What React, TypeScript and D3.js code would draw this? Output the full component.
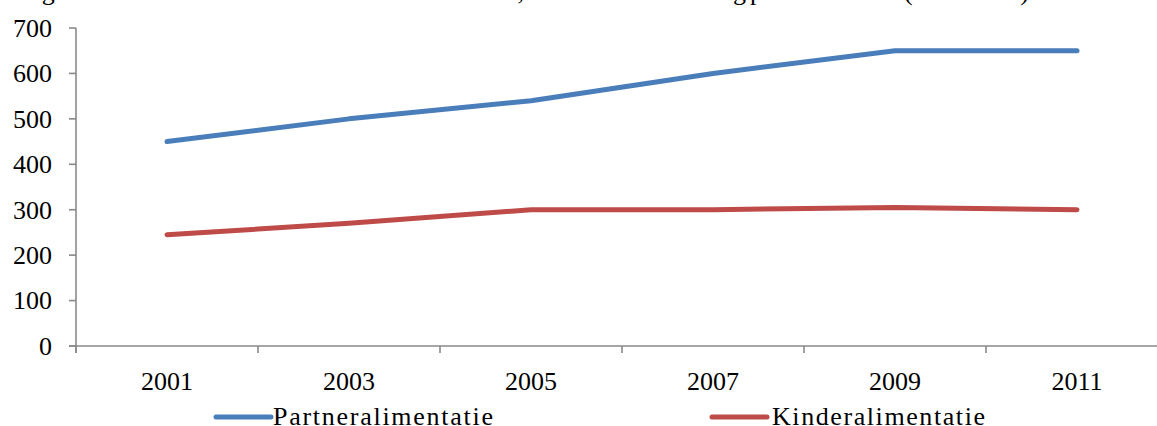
import React from "react";
import * as d3 from "d3";

const years = ["2001", "2003", "2005", "2007", "2009", "2011"];
const partnerValues = [450, 500, 540, 600, 650, 650];
const kinderValues = [245, 270, 300, 300, 305, 300];
const yTickValues = [0, 100, 200, 300, 400, 500, 600, 700];
const seriesNames = ["Partneralimentatie", "Kinderalimentatie"];
const titleParts = ["Figuur 4.3 Mediane alimentatie naar soort,", "het mediane bedrag", "per maand", "(in euro's)"];

const W = 1157;
const H = 426;
const FONT = "'Liberation Serif', 'Times New Roman', serif";
const AXIS = "#898989";
const COLORS = ["#4a7ebb", "#be4b48"];

export default function App() {
  const x = d3.scaleBand<string>().domain(years).range([76, 1168]).padding(0);
  const y = d3.scaleLinear().domain([0, 700]).range([346, 28]);
  const cx = (d: string) => (x(d) as number) + x.bandwidth() / 2;
  const line = d3
    .line<number>()
    .x((_, i) => cx(years[i]))
    .y((v) => y(v));
  const series = [partnerValues, kinderValues];
  const boundaries = years.map((d) => x(d) as number).concat([x.range()[1]]);

  // title segments: [start, end]
  const titleSpans: [number, number][] = [
    [17, 524],
    [530, 746],
    [750, 888],
    [904, 1029],
  ];

  const legend = [
    { x1: 216, x2: 271, tx: 273, tl: 220 },
    { x1: 712, x2: 767, tx: 772, tl: 213 },
  ];

  return (
    <svg
      width={W}
      height={H}
      style={{ position: "absolute", left: 0, top: 0, display: "block", background: "#fff" }}
      fontFamily={FONT}
    >
      {/* cut-off title */}
      {titleParts.map((t, i) => (
        <text
          key={t}
          x={titleSpans[i][0]}
          y={0}
          fontSize={26}
          fill="#000"
          textLength={titleSpans[i][1] - titleSpans[i][0]}
          lengthAdjust="spacing"
        >
          {t}
        </text>
      ))}

      {/* y axis */}
      <line x1={76} x2={76} y1={y(700)} y2={353} stroke={AXIS} strokeWidth={1.6} />
      {yTickValues.map((t) => (
        <g key={t}>
          <line x1={69} x2={76} y1={y(t)} y2={y(t)} stroke={AXIS} strokeWidth={1.6} />
          <text x={52} y={y(t)} dy="0.34em" textAnchor="end" fontSize={26} fill="#000">
            {t}
          </text>
        </g>
      ))}

      {/* x axis */}
      <line x1={69} x2={x.range()[1]} y1={y(0)} y2={y(0)} stroke={AXIS} strokeWidth={1.6} />
      {boundaries.map((b, i) => (
        <line key={i} x1={b} x2={b} y1={y(0)} y2={353} stroke={AXIS} strokeWidth={1.6} />
      ))}
      {years.map((d) => (
        <text key={d} x={cx(d)} y={390} textAnchor="middle" fontSize={26} fill="#000">
          {d}
        </text>
      ))}

      {/* series lines */}
      {series.map((s, i) => (
        <path
          key={seriesNames[i]}
          d={line(s) || ""}
          fill="none"
          stroke={COLORS[i]}
          strokeWidth={5}
          strokeLinecap="round"
          strokeLinejoin="round"
        />
      ))}

      {/* legend */}
      {legend.map((l, i) => (
        <g key={seriesNames[i]}>
          <line x1={l.x1} x2={l.x2} y1={417} y2={417} stroke={COLORS[i]} strokeWidth={5} strokeLinecap="round" />
          <text x={l.tx} y={425} fontSize={26} fill="#000" textLength={l.tl} lengthAdjust="spacing">
            {seriesNames[i]}
          </text>
        </g>
      ))}
    </svg>
  );
}
